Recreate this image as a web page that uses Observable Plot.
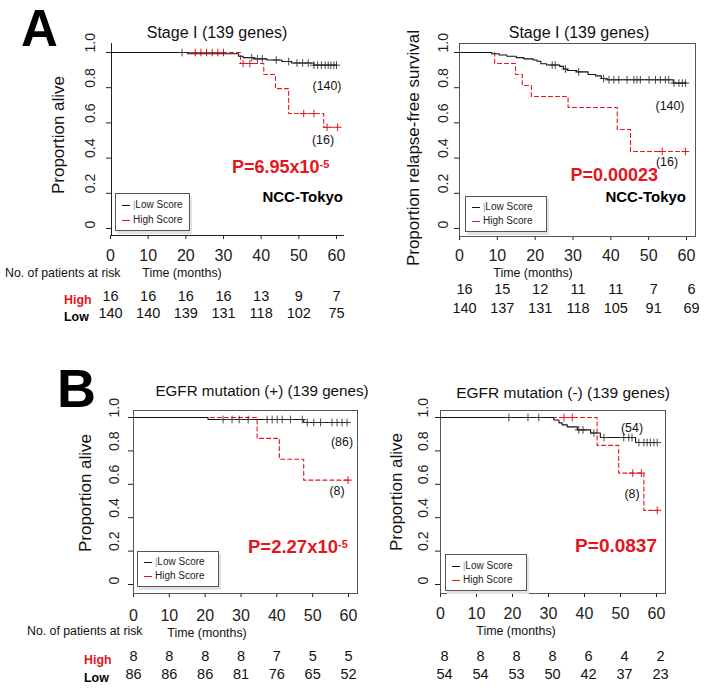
<!DOCTYPE html>
<html><head><meta charset="utf-8">
<script src="https://cdn.jsdelivr.net/npm/d3@7"></script>
<script src="https://cdn.jsdelivr.net/npm/@observablehq/plot@0.6"></script>
<style>
html,body{margin:0;padding:0;background:#fff;}
#fig{position:relative;width:706px;height:688px;overflow:hidden;font-family:"Liberation Sans",Arial,sans-serif;color:#111;background:#fff;}
.abs{position:absolute;white-space:nowrap;line-height:1;}
.leg{position:absolute;background:#fff;border:1px solid #555;box-shadow:2px 3px 0 #e2e2e2;}
.leg .ln{position:absolute;height:0;border-top:1.3px solid #000;}
</style></head><body><div id="fig"></div>
<script>
// ---------------- data ----------------
const months = [0, 10, 20, 30, 40, 50, 60];
const yTickValues = [0, 0.2, 0.4, 0.6, 0.8, 1.0];
const yTickLabels = ["0", "0.2", "0.4", "0.6", "0.8", "1.0"];

// A left: Stage I, overall survival
const a1LowT = [0, 20.5, 34, 35.2, 38, 41.5, 45.5, 48, 54, 60];
const a1LowS = [1, 0.993, 0.979, 0.971, 0.964, 0.957, 0.949, 0.940, 0.928, 0.928];
const a1LowCensor = [19, 37.5, 39, 40.3, 44, 47.3, 49.5, 51, 52.5, 54, 55, 56, 57, 57.8, 58.5, 59.3, 60];
const a1HighT = [0, 34.5, 40.7, 43.8, 47.3, 56.6, 60.3];
const a1HighS = [1, 0.9375, 0.875, 0.795, 0.653, 0.575, 0.575];
const a1HighCensor = [22.5, 24, 25.5, 27, 28.5, 30, 35.2, 37, 51.3, 54, 57.5, 60.3];
const a1RiskHigh = [16, 16, 16, 16, 13, 9, 7];
const a1RiskLow = [140, 140, 139, 131, 118, 102, 75];

// A right: Stage I, relapse-free survival
const a2LowT = [0, 8.5, 10.5, 12.5, 15, 17, 19.5, 20.5, 21.5, 23, 26.5, 27.5, 28.5, 31, 34, 36, 37.5, 39, 56.5, 60];
const a2LowS = [1, 0.993, 0.986, 0.979, 0.971, 0.964, 0.957, 0.950, 0.936, 0.929, 0.921, 0.906, 0.898, 0.890, 0.875, 0.867, 0.852, 0.845, 0.826, 0.826];
const a2LowCensor = [24.5, 25.3, 28, 31.5, 38.1, 39.5, 40.8, 42.1, 44.3, 46.1, 46.9, 47.8, 50.1, 51.8, 53.1, 54.4, 55.3, 56.7, 58, 58.9, 59.7];
const a2HighT = [0, 9.3, 14.8, 16.6, 19, 28.7, 41.7, 45.2, 59.7];
const a2HighS = [1, 0.9375, 0.875, 0.8125, 0.75, 0.6875, 0.5625, 0.4375, 0.4375];
const a2HighCensor = [53.6, 59.7];
const a2RiskHigh = [16, 15, 12, 11, 11, 7, 6];
const a2RiskLow = [140, 137, 131, 118, 105, 91, 69];

// B left: EGFR mutation (+)
const b1LowT = [0, 20.8, 47.5, 60];
const b1LowS = [1, 0.988, 0.970, 0.970];
const b1LowCensor = [25, 27.5, 29.5, 32, 37.3, 38.7, 40.1, 41.5, 43.8, 47.1, 48.5, 50.3, 52.2, 55.4, 56.8, 58.2, 59.6];
const b1HighT = [0, 34.5, 40.7, 47.5, 60];
const b1HighS = [1, 0.875, 0.75, 0.625, 0.625];
const b1HighCensor = [59.9];
const b1RiskHigh = [8, 8, 8, 8, 7, 5, 5];
const b1RiskLow = [86, 86, 86, 81, 76, 65, 52];

// B right: EGFR mutation (-)
const b2LowT = [0, 31.5, 32.9, 33.8, 35.2, 38, 41.7, 44.4, 54.2, 60.2];
const b2LowS = [1, 0.985, 0.968, 0.956, 0.944, 0.926, 0.907, 0.880, 0.850, 0.850];
const b2LowCensor = [19, 24.3, 27.3, 38.4, 39.6, 42.6, 45.4, 50.9, 52.3, 53.2, 55.1, 56.5, 57.4, 58.3, 59.3, 60.2];
const b2HighT = [0, 43.5, 49.5, 56.5, 60.2];
const b2HighS = [1, 0.833, 0.667, 0.444, 0.444];
const b2HighCensor = [34.3, 36.6, 53.4, 55.8, 60.2];
const b2RiskHigh = [8, 8, 8, 8, 6, 4, 2];
const b2RiskLow = [54, 54, 53, 50, 42, 37, 23];

// ---------------- fonts ----------------
function fontAvailable(name) {
  const ctx = document.createElement("canvas").getContext("2d");
  const s = "abcdefghijklmnopqrstuvwxyz0123456789";
  ctx.font = "40px monospace"; const w1 = ctx.measureText(s).width;
  ctx.font = `40px "${name}", monospace`; const w2 = ctx.measureText(s).width;
  return Math.abs(w1 - w2) > 1;
}
const HAS_NARROW = fontAvailable("Liberation Sans Narrow");
const SANS = '"Liberation Sans", Arial, Helvetica, sans-serif';
const NARROW = HAS_NARROW ? '"Liberation Sans Narrow", ' + SANS : SANS;
const nz = s => HAS_NARROW ? s : +(s * 0.83).toFixed(1);
const RED = "#e3161e";

const fig = document.getElementById("fig");

// ---------------- panels ----------------
function survAt(T, S, t) { let s = S[0]; for (let i = 0; i < T.length; i++) if (T[i] <= t) s = S[i]; return s; }

function panel(c) {
  const lowLine = c.lowT.map((t, i) => ({t, s: c.lowS[i]}));
  const highLine = c.highT.map((t, i) => ({t, s: c.highS[i]}));
  const lowC = c.lowCensor.map(t => ({t, s: survAt(c.lowT, c.lowS, t)}));
  const highC = c.highCensor.map(t => ({t, s: survAt(c.highT, c.highS, t)}));
  const svg = Plot.plot({
    width: c.width, height: c.height,
    marginLeft: c.box.l - c.left, marginTop: c.box.t - c.top,
    marginRight: c.left + c.width - c.box.r, marginBottom: c.top + c.height - c.box.b,
    x: {domain: [0, 60], range: [c.x0 - c.left, c.x60 - c.left], ticks: months, tickSize: 4,
        tickPadding: c.tickPad, label: null, tickFormat: d => String(d), line: !c.frame},
    y: {domain: [0, 1], range: [c.y0 - c.top, c.y1 - c.top], ticks: yTickValues, tickSize: 5,
        tickFormat: () => "", label: null, line: !c.frame},
    style: {background: "none", overflow: "visible", fontFamily: SANS, fontSize: "16px", color: "#222"},
    marks: [
      c.frame ? Plot.frame({stroke: "#555"}) : null,
      Plot.text(yTickValues, {y: d => d, text: (d, i) => yTickLabels[i], frameAnchor: "left", dx: c.yLabDx,
        rotate: -90, fontFamily: NARROW, fontSize: nz(17), fill: "#222"}),
      Plot.line(highLine, {x: "t", y: "s", curve: "step-after", stroke: RED, strokeWidth: 1.1, strokeDasharray: "4,3"}),
      Plot.dot(highC, {x: "t", y: "s", symbol: "plus", r: 2.6, stroke: RED, strokeWidth: 1}),
      Plot.line(lowLine, {x: "t", y: "s", curve: "step-after", stroke: "#111", strokeWidth: 1.1}),
      Plot.dot(lowC, {x: "t", y: "s", symbol: "plus", r: 2.6, stroke: "#333", strokeWidth: 0.9}),
      Plot.text(months, {x: d => d, text: (d, i) => String(c.riskHigh[i]), frameAnchor: "bottom",
        dy: c.riskDy[0], dx: c.riskDx, fontSize: 14.5, fill: "#111"}),
      Plot.text(months, {x: d => d, text: (d, i) => String(c.riskLow[i]), frameAnchor: "bottom",
        dy: c.riskDy[1], dx: c.riskDx, fontSize: 14.5, fill: "#111"})
    ]
  });
  svg.style.position = "absolute";
  svg.style.left = c.left + "px";
  svg.style.top = c.top + "px";
  fig.appendChild(svg);
}

panel({left: 0, top: 0, width: 353, height: 340, box: {l: 111, t: 43, r: 343, b: 235},
  x0: 110, x60: 336, y0: 228, y1: 52, frame: false, tickPad: 10, yLabDx: -21,
  lowT: a1LowT, lowS: a1LowS, lowCensor: a1LowCensor, highT: a1HighT, highS: a1HighS, highCensor: a1HighCensor,
  riskHigh: a1RiskHigh, riskLow: a1RiskLow, riskDy: [65, 82], riskDx: 0});
panel({left: 353, top: 0, width: 353, height: 340, box: {l: 459, t: 43, r: 695, b: 236},
  x0: 459, x60: 686, y0: 228, y1: 52, frame: true, tickPad: 9, yLabDx: -16,
  lowT: a2LowT, lowS: a2LowS, lowCensor: a2LowCensor, highT: a2HighT, highS: a2HighS, highCensor: a2HighCensor,
  riskHigh: a2RiskHigh, riskLow: a2RiskLow, riskDy: [57, 76], riskDx: 5});
panel({left: 0, top: 350, width: 365, height: 338, box: {l: 133, t: 410, r: 357, b: 593},
  x0: 133, x60: 348, y0: 584, y1: 417, frame: true, tickPad: 12, yLabDx: -19,
  lowT: b1LowT, lowS: b1LowS, lowCensor: b1LowCensor, highT: b1HighT, highS: b1HighS, highCensor: b1HighCensor,
  riskHigh: b1RiskHigh, riskLow: b1RiskLow, riskDy: [67, 85], riskDx: 0});
panel({left: 353, top: 350, width: 353, height: 338, box: {l: 440, t: 410, r: 665, b: 593},
  x0: 440, x60: 656, y0: 584, y1: 417, frame: true, tickPad: 10, yLabDx: -17,
  lowT: b2LowT, lowS: b2LowS, lowCensor: b2LowCensor, highT: b2HighT, highS: b2HighS, highCensor: b2HighCensor,
  riskHigh: b2RiskHigh, riskLow: b2RiskLow, riskDy: [67, 85], riskDx: 4});

// ---------------- text annotations ----------------
function label(html, x, y, o = {}) {
  const d = document.createElement("div");
  d.className = "abs";
  d.innerHTML = html;
  const a = o.anchor || "middle";
  const tx = a === "start" ? "0" : a === "end" ? "-100%" : "-50%";
  d.style.left = x + "px"; d.style.top = y + "px";
  d.style.transform = `translate(${tx},-50%)` + (o.rotate ? ` rotate(${o.rotate}deg)` : "");
  d.style.fontFamily = o.family || SANS;
  d.style.fontSize = (o.size || 15) + "px";
  d.style.fontWeight = o.bold ? "bold" : "normal";
  d.style.color = o.color || "#111";
  if (o.lh) d.style.lineHeight = o.lh;
  fig.appendChild(d);
  return d;
}
const sup = s => `<span style="font-size:11px;position:relative;top:-5px;">${s}</span>`;

// panel letters
label("A", 21, 28.5, {anchor: "start", size: 51, bold: true, color: "#000", lh: 0.75});
label("B", 57, 388, {anchor: "start", size: 54, bold: true, color: "#000", lh: 0.75});

// titles
label("Stage I (139 genes)", 217, 33, {size: 16});
label("Stage I (139 genes)", 579, 33, {size: 16});
label("EGFR mutation (+) (139 genes)", 262, 391, {size: 15.2});
label("EGFR mutation (-) (139 genes)", 563, 393, {size: 15.5});

// y labels
label("Proportion alive", 58, 135, {size: 17, rotate: -90});
label("Proportion relapse-free survival", 413, 148, {size: 17, rotate: -90});
label("Proportion alive", 85, 493, {size: 17, rotate: -90});
label("Proportion alive", 396, 492, {size: 17, rotate: -90});

// group sizes
label("(140)", 327, 86, {family: NARROW, size: nz(15)});
label("(16)", 323, 140, {family: NARROW, size: nz(15)});
label("(140)", 670, 106, {family: NARROW, size: nz(15)});
label("(16)", 667, 162, {family: NARROW, size: nz(15)});
label("(86)", 342, 442, {family: NARROW, size: nz(15)});
label("(8)", 337, 491, {family: NARROW, size: nz(15)});
label("(54)", 632, 428, {family: NARROW, size: nz(15)});
label("(8)", 632, 494, {family: NARROW, size: nz(15)});

// p values
label("P=6.95x10" + sup("-5"), 232, 167, {anchor: "start", size: 18, bold: true, color: RED});
label("P=0.00023", 658, 175, {anchor: "end", size: 18, bold: true, color: RED});
label("P=2.27x10" + sup("-5"), 248, 547, {anchor: "start", size: 18.5, bold: true, color: RED});
label("P=0.0837", 657, 545, {anchor: "end", size: 19, bold: true, color: RED});
label("NCC-Tokyo", 343, 196, {anchor: "end", size: 15, bold: true, color: "#000"});
label("NCC-Tokyo", 686, 196, {anchor: "end", size: 15, bold: true, color: "#000"});

// axis titles and risk-table labels
label("Time (months)", 182, 273, {family: NARROW, size: nz(15)});
label("Time (months)", 533, 273, {family: NARROW, size: nz(15)});
label("Time (months)", 207, 633, {family: NARROW, size: nz(15)});
label("Time (months)", 516, 631, {family: NARROW, size: nz(15)});
label("No. of patients at risk", 5, 273, {anchor: "start", family: NARROW, size: nz(14.8)});
label("No. of patients at risk", 27, 631, {anchor: "start", family: NARROW, size: nz(14.8)});
label("High", 64, 300, {anchor: "start", family: NARROW, size: nz(15), bold: true, color: RED});
label("Low", 64, 317, {anchor: "start", family: NARROW, size: nz(15), bold: true, color: "#000"});
label("High", 84, 660, {anchor: "start", family: NARROW, size: nz(15), bold: true, color: RED});
label("Low", 84, 678, {anchor: "start", family: NARROW, size: nz(15), bold: true, color: "#000"});

// legends
function legend(x, y, w, h) {
  const d = document.createElement("div");
  d.className = "leg";
  Object.assign(d.style, {left: x + "px", top: y + "px", width: w + "px", height: h + "px"});
  const rows = [{c: "#111", t: '<span style="color:#999;font-size:9px">|</span>Low Score', yy: 0.3},
                {c: RED, t: "High Score", yy: 0.72}];
  for (const r of rows) {
    const ln = document.createElement("div");
    ln.className = "ln";
    Object.assign(ln.style, {left: "6px", width: "8px", top: (h * r.yy) + "px", borderTopColor: r.c});
    d.appendChild(ln);
    const tx = document.createElement("div");
    tx.className = "abs";
    tx.innerHTML = r.t;
    Object.assign(tx.style, {left: "17px", top: (h * r.yy) + "px", transform: "translateY(-50%)",
      fontFamily: NARROW, fontSize: nz(12) + "px", color: "#222"});
    d.appendChild(tx);
  }
  fig.appendChild(d);
}
legend(115, 193, 73, 36);
legend(465, 196, 80, 34);
legend(137, 551, 80, 34);
legend(445, 554, 80, 35);
</script></body></html>
